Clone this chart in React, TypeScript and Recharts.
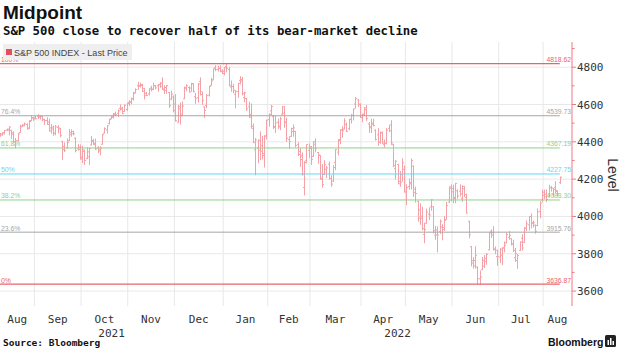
import { Bar, CartesianGrid, ComposedChart, ReferenceLine, XAxis, YAxis } from "recharts";

// trading days shown per month, Aug 2021 .. Aug 2022
const monthNames = ["Aug", "Sep", "Oct", "Nov", "Dec", "Jan", "Feb", "Mar", "Apr", "May", "Jun", "Jul", "Aug"];
const monthDays = [16, 21, 21, 21, 22, 20, 19, 23, 20, 21, 21, 20, 8];
const yearNames = ["2021", "2022"];
const yearFirstMonth = [0, 5];

// S&P 500 INDEX daily bars
const opens = [
  4435, 4442, 4447, 4464, 4462, 4462, 4440, 4383, 4406, 4450, 4484, 4490, 4493, 4474, 4514, 4528,
  4528, 4534, 4532, 4535, 4518, 4514, 4506, 4474, 4479, 4447, 4477, 4469, 4402, 4375, 4367, 4406, 4438, 4443, 4420, 4362, 4371,
  4317, 4349, 4310, 4320, 4383, 4407, 4385, 4368, 4358, 4387, 4447, 4464, 4498, 4524, 4532, 4547, 4553, 4579, 4580, 4563, 4573,
  4611, 4613, 4630, 4662, 4700, 4702, 4707, 4670, 4660, 4656, 4689, 4680, 4701, 4700, 4708, 4713, 4678, 4675, 4664, 4629, 4640,
  4602, 4505, 4589, 4549, 4631, 4690, 4691, 4688, 4710, 4642, 4637, 4723, 4653, 4587, 4595, 4650, 4703, 4733, 4796, 4788, 4795, 4776,
  4778, 4804, 4787, 4693, 4697, 4655, 4669, 4728, 4734, 4637, 4632, 4588, 4547, 4471, 4357, 4366, 4408, 4381, 4337, 4431,
  4519, 4566, 4535, 4482, 4505, 4480, 4548, 4553, 4506, 4412, 4429, 4455, 4456, 4385, 4332, 4324, 4155, 4299, 4354,
  4364, 4322, 4401, 4343, 4327, 4202, 4224, 4253, 4280, 4203, 4189, 4289, 4345, 4407, 4463, 4469, 4494, 4470, 4522, 4541, 4603, 4624, 4599,
  4541, 4548, 4572, 4495, 4475, 4494, 4462, 4437, 4397, 4449, 4385, 4390, 4472, 4490, 4385, 4256, 4279, 4187, 4223, 4253,
  4131, 4160, 4182, 4270, 4129, 4081, 4035, 3990, 3903, 3964, 4013, 4052, 4052, 3899, 3928, 3920, 3943, 3930, 3984, 4077, 4151,
  4150, 4096, 4137, 4135, 4097, 4148, 4101, 3974, 3838, 3763, 3764, 3729, 3665, 3715, 3733, 3774, 3821, 3921, 3913, 3826, 3785,
  3782, 3792, 3831, 3858, 3888, 3880, 3851, 3779, 3764, 3818, 3883, 3861, 3936, 3955, 3999, 3966, 3953, 3951, 4027, 4088,
  4113, 4105, 4108, 4154, 4116, 4156, 4134, 4181,
];
const highs = [
  4445, 4449, 4461, 4468, 4480, 4462, 4454, 4418, 4444, 4489, 4492, 4501, 4496, 4513, 4538, 4531,
  4537, 4545, 4541, 4535, 4521, 4529, 4521, 4492, 4485, 4487, 4486, 4471, 4403, 4394, 4416, 4466, 4464, 4457, 4420, 4385, 4383,
  4375, 4356, 4369, 4365, 4429, 4413, 4415, 4374, 4373, 4440, 4475, 4487, 4521, 4540, 4552, 4559, 4572, 4598, 4585, 4597, 4608,
  4621, 4635, 4664, 4684, 4719, 4714, 4708, 4685, 4664, 4685, 4698, 4714, 4702, 4708, 4718, 4743, 4700, 4702, 4664, 4672, 4646,
  4653, 4595, 4608, 4613, 4694, 4706, 4695, 4713, 4711, 4660, 4712, 4743, 4666, 4587, 4652, 4697, 4740, 4791, 4808, 4805, 4808, 4787,
  4797, 4819, 4798, 4726, 4708, 4674, 4714, 4749, 4745, 4666, 4632, 4612, 4603, 4495, 4418, 4411, 4453, 4429, 4432, 4516,
  4550, 4595, 4542, 4540, 4522, 4531, 4590, 4588, 4527, 4427, 4473, 4490, 4456, 4395, 4363, 4340, 4294, 4385, 4389,
  4375, 4401, 4416, 4343, 4327, 4277, 4299, 4268, 4292, 4218, 4272, 4358, 4413, 4465, 4481, 4523, 4501, 4520, 4546, 4576, 4637, 4627, 4604,
  4548, 4583, 4594, 4503, 4521, 4521, 4464, 4471, 4453, 4453, 4410, 4471, 4489, 4513, 4386, 4299, 4279, 4240, 4309, 4270,
  4170, 4200, 4308, 4270, 4157, 4081, 4068, 4050, 3964, 4039, 4046, 4090, 4052, 3946, 3944, 3981, 3956, 3999, 4075, 4158, 4169,
  4167, 4177, 4143, 4169, 4164, 4161, 4120, 3974, 3838, 3778, 3838, 3729, 3708, 3780, 3791, 3801, 3913, 3928, 3945, 3836, 3819,
  3827, 3833, 3864, 3910, 3919, 3880, 3873, 3829, 3796, 3864, 3902, 3940, 3975, 3999, 4013, 3975, 3954, 4040, 4079, 4141,
  4141, 4141, 4167, 4161, 4151, 4186, 4137, 4211,
];
const lows = [
  4430, 4436, 4441, 4461, 4437, 4418, 4397, 4367, 4406, 4450, 4482, 4486, 4468, 4472, 4513, 4515,
  4522, 4524, 4522, 4513, 4493, 4493, 4457, 4446, 4435, 4438, 4448, 4427, 4306, 4348, 4367, 4406, 4430, 4437, 4346, 4356, 4307,
  4289, 4279, 4310, 4278, 4383, 4386, 4360, 4342, 4330, 4387, 4447, 4447, 4496, 4524, 4527, 4541, 4537, 4570, 4551, 4562, 4567,
  4595, 4604, 4624, 4662, 4681, 4694, 4670, 4630, 4648, 4651, 4673, 4680, 4684, 4672, 4692, 4680, 4659, 4660, 4585, 4626, 4560,
  4511, 4505, 4495, 4541, 4631, 4674, 4666, 4671, 4667, 4606, 4612, 4651, 4600, 4531, 4583, 4645, 4703, 4733, 4781, 4779, 4776, 4766,
  4759, 4775, 4700, 4671, 4663, 4582, 4638, 4711, 4651, 4614, 4568, 4530, 4474, 4395, 4223, 4288, 4305, 4309, 4265, 4415,
  4484, 4544, 4471, 4451, 4471, 4465, 4548, 4478, 4402, 4365, 4429, 4430, 4373, 4327, 4268, 4221, 4115, 4287, 4316,
  4279, 4322, 4346, 4285, 4199, 4157, 4224, 4209, 4200, 4162, 4187, 4251, 4330, 4390, 4424, 4469, 4455, 4465, 4501, 4517, 4581, 4589, 4530,
  4507, 4540, 4514, 4451, 4450, 4485, 4409, 4381, 4392, 4392, 4371, 4390, 4455, 4385, 4267, 4201, 4175, 4162, 4189, 4131,
  4063, 4147, 4148, 4107, 4077, 3975, 3958, 3928, 3859, 3964, 3984, 4033, 3913, 3877, 3810, 3909, 3875, 3926, 3984, 4077, 4083,
  4074, 4074, 4098, 4110, 4081, 4107, 4018, 3885, 3735, 3724, 3723, 3640, 3637, 3715, 3727, 3744, 3821, 3887, 3820, 3800, 3738,
  3752, 3742, 3810, 3858, 3878, 3847, 3812, 3759, 3722, 3818, 3819, 3861, 3925, 3927, 3939, 3944, 3910, 3951, 3993, 4079,
  4097, 4079, 4108, 4135, 4107, 4128, 4112, 4177,
];
const closes = [
  4437, 4448, 4461, 4468, 4480, 4448, 4400, 4406, 4442, 4480, 4486, 4496, 4470, 4509, 4529, 4523,
  4524, 4537, 4535, 4520, 4514, 4493, 4459, 4469, 4443, 4481, 4474, 4433, 4358, 4354, 4396, 4449, 4455, 4443, 4353, 4359, 4308,
  4357, 4300, 4346, 4364, 4400, 4391, 4361, 4351, 4364, 4438, 4471, 4486, 4520, 4536, 4550, 4545, 4566, 4575, 4552, 4596, 4605,
  4614, 4631, 4661, 4680, 4698, 4702, 4685, 4647, 4649, 4683, 4683, 4701, 4689, 4705, 4698, 4683, 4691, 4701, 4595, 4655, 4567,
  4513, 4577, 4538, 4592, 4687, 4701, 4667, 4712, 4669, 4634, 4710, 4669, 4621, 4568, 4649, 4697, 4726, 4791, 4786, 4793, 4779, 4766,
  4797, 4794, 4701, 4696, 4677, 4670, 4713, 4726, 4659, 4663, 4577, 4533, 4483, 4398, 4410, 4356, 4350, 4327, 4432, 4516,
  4547, 4589, 4477, 4501, 4484, 4522, 4587, 4504, 4419, 4402, 4471, 4475, 4380, 4349, 4305, 4226, 4289, 4385, 4374,
  4306, 4387, 4363, 4329, 4201, 4171, 4278, 4260, 4204, 4173, 4262, 4358, 4412, 4463, 4461, 4512, 4456, 4520, 4543, 4576, 4632, 4602, 4530,
  4546, 4583, 4525, 4481, 4500, 4488, 4413, 4397, 4447, 4393, 4392, 4462, 4459, 4394, 4272, 4296, 4175, 4184, 4288, 4132,
  4155, 4175, 4300, 4147, 4123, 3991, 4001, 3935, 3930, 4024, 4008, 4089, 3924, 3901, 3901, 3974, 3941, 3979, 4058, 4158, 4132,
  4101, 4177, 4109, 4121, 4161, 4116, 4018, 3901, 3750, 3735, 3790, 3667, 3675, 3765, 3760, 3796, 3912, 3900, 3822, 3819, 3785,
  3825, 3831, 3845, 3903, 3899, 3854, 3819, 3802, 3790, 3863, 3831, 3937, 3960, 3999, 3962, 3967, 3921, 4024, 4072, 4130,
  4119, 4091, 4155, 4152, 4145, 4140, 4122, 4210,
];

// retracement levels
const fibLabels = ["100%", "76.4%", "61.8%", "50%", "38.2%", "23.6%", "0%"];
const fibValues = [4818.62, 4539.73, 4367.19, 4227.75, 4088.3, 3915.76, 3636.87];
const fibColors = ["#e9636c", "#a6a6a6", "#8fd08c", "#5fd8f5", "#8fd08c", "#a6a6a6", "#e9636c"];

const yTicks = [3600, 3700, 3800, 3900, 4000, 4100, 4200, 4300, 4400, 4500, 4600, 4700, 4800, 4900];

const X_END = 257.5;
const BAR_COLOR = "#f4a2a7";
const MONO = "'DejaVu Sans Mono', monospace";
const SANS = "'Liberation Sans', Arial, sans-serif";

const rows = closes.map((c, i) => ({
  i,
  range: [lows[i], highs[i]],
  open: opens[i],
  high: highs[i],
  low: lows[i],
  close: c,
}));
const lastIdx = rows.length - 1;

const monthStarts = monthDays.map((_, k) => monthDays.slice(0, k).reduce((a, b) => a + b, 0));
const gridX = monthStarts.slice(1).map((s) => s - 0.5);
const bounds = [0, ...gridX, X_END];
const monthCenters = monthNames.map((_, k) => (bounds[k] + bounds[k + 1]) / 2);
const yearCenters = yearFirstMonth.map((m, k) => {
  const end = k + 1 < yearFirstMonth.length ? bounds[yearFirstMonth[k + 1]] : X_END;
  return (bounds[m] + end) / 2;
});
const labelTicks = [...monthCenters, ...yearCenters];
const majorY = yTicks.filter((v) => v % 200 === 0);

function OhlcShape(props: any) {
  const { x, y, width, height, payload } = props;
  if (x == null || y == null || !payload) return null;
  const top = Math.min(y, y + height);
  const bot = Math.max(y, y + height);
  const span = payload.high - payload.low || 1;
  const toY = (v: number) => top + ((payload.high - v) / span) * (bot - top);
  const cx = Math.round(x + (width || 0) / 2) + 0.5;
  return (
    <g stroke={BAR_COLOR} strokeWidth={1}>
      <line x1={cx} x2={cx} y1={top - 0.5} y2={bot + 0.5} />
      <line x1={cx - 1.5} x2={cx} y1={toY(payload.open)} y2={toY(payload.open)} />
      <line x1={cx} x2={cx + 1.5} y1={toY(payload.close)} y2={toY(payload.close)} />
    </g>
  );
}

function DateTick(props: any) {
  const { x, y, payload } = props;
  const k = labelTicks.indexOf(payload.value);
  if (k < 0) return null;
  const isYear = k >= monthCenters.length;
  const text = isYear ? yearNames[k - monthCenters.length] : monthNames[k];
  return (
    <text x={x} y={y + (isYear ? 31 : 17)} textAnchor="middle" fontFamily={MONO} fontSize={11} fill="#333">
      {text}
    </text>
  );
}

function LevelTick(props: any) {
  const { x, y, payload } = props;
  const major = payload.value % 200 === 0;
  return (
    <g>
      <line x1={x} x2={x + (major ? 4 : 2.5)} y1={y} y2={y} stroke="#ef7780" />
      {major && (
        <text x={x + 5} y={y + 4} fontFamily={MONO} fontSize={11} fill="#333">
          {payload.value}
        </text>
      )}
    </g>
  );
}

function fibLabel(k: number) {
  return (props: any) => {
    const vb = props.viewBox || {};
    const ly = vb.y - 1.5;
    return (
      <g fontFamily={SANS} fontSize={6.8} fill={fibColors[k]}>
        <text x={1} y={ly}>{fibLabels[k]}</text>
        <text x={571} y={ly} textAnchor="end">{fibValues[k].toFixed(2)}</text>
      </g>
    );
  };
}

export default function App() {
  return (
    <div style={{ position: "absolute", left: 0, top: 0, width: 620, height: 348, background: "#fff", overflow: "hidden" }}>
      <ComposedChart width={620} height={348} data={rows} margin={{ top: 42, right: 0, bottom: 12, left: 0 }}>
        <CartesianGrid stroke="#e8e8e8" verticalValues={gridX} horizontalValues={majorY} />
        <XAxis
          dataKey="i"
          type="number"
          domain={[0, X_END]}
          allowDataOverflow
          ticks={labelTicks}
          interval={0}
          axisLine={false}
          tickLine={false}
          tickSize={0}
          tickMargin={0}
          height={30}
          tick={<DateTick />}
        />
        <YAxis
          orientation="right"
          width={48}
          domain={[3520, 4935]}
          allowDataOverflow
          ticks={yTicks}
          interval={0}
          axisLine={{ stroke: "#ef7780" }}
          tickLine={false}
          tickSize={0}
          tickMargin={0}
          tick={<LevelTick />}
        />
        {fibValues.map((v, k) => (
          <ReferenceLine
            key={k}
            segment={[{ x: 0, y: v }, { x: lastIdx, y: v }]}
            stroke={fibColors[k]}
            strokeWidth={k === 0 || k === 6 ? 1.3 : 1}
            label={fibLabel(k)}
          />
        ))}
        <Bar dataKey="range" barSize={2} shape={<OhlcShape />} isAnimationActive={false} />
      </ComposedChart>
      <svg width={620} height={348} style={{ position: "absolute", left: 0, top: 0, pointerEvents: "none" }}>
        <text x={3} y={19} fontFamily={SANS} fontWeight="bold" fontSize={19} fill="#111">Midpoint</text>
        <text x={3} y={35} fontFamily={MONO} fontWeight="bold" fontSize={12.3} fill="#111">
          S&amp;P 500 close to recover half of its bear-market decline
        </text>
        <rect x={3} y={44} width={129} height={16} fill="#efefef" />
        <rect x={6} y={49} width={6} height={6} fill="#e34f5a" />
        <text x={14} y={55.5} fontFamily={SANS} fontSize={9} fill="#444">S&amp;P 500 INDEX - Last Price</text>
        <text x={608} y={175} transform="rotate(90 608 175)" textAnchor="middle" fontFamily={SANS} fontSize={14} fill="#333">
          Level
        </text>
        <text x={3} y={346} fontFamily={MONO} fontWeight="bold" fontSize={9.5} fill="#111">Source: Bloomberg</text>
        <text x={548} y={346} fontFamily={SANS} fontWeight="bold" fontSize={10.5} fill="#111">Bloomberg</text>
        <rect x={605} y={335} width={11} height={12} rx={1.5} fill="#222" />
        <rect x={607.5} y={340} width={1.5} height={5} fill="#fff" />
        <rect x={610} y={338} width={1.5} height={7} fill="#fff" />
        <rect x={612.5} y={341} width={1.5} height={4} fill="#fff" />
      </svg>
    </div>
  );
}
